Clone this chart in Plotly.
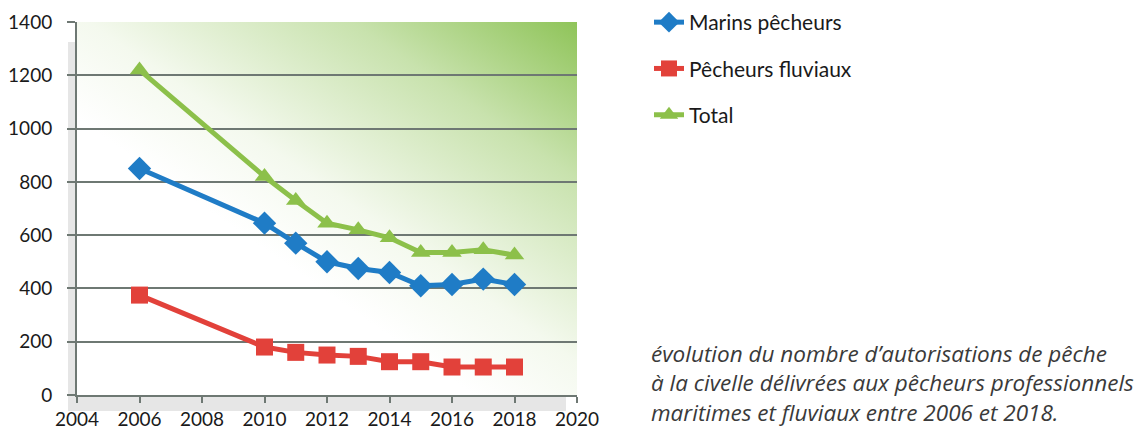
import base64
import plotly.graph_objects as go

# ---- data ----
years = [2006, 2010, 2011, 2012, 2013, 2014, 2015, 2016, 2017, 2018]
marins = [850, 645, 570, 500, 475, 460, 410, 415, 435, 415]
fluviaux = [375, 180, 160, 150, 145, 125, 125, 105, 105, 105]
total = [1220, 820, 730, 645, 620, 590, 535, 535, 545, 525]
series_names = ["Marins pêcheurs", "Pêcheurs fluviaux", "Total"]
x_ticks = [2004, 2006, 2008, 2010, 2012, 2014, 2016, 2018, 2020]
y_ticks = [0, 200, 400, 600, 800, 1000, 1200, 1400]
caption_lines = [
    "évolution du nombre d’autorisations de pêche",
    "à la civelle délivrées aux pêcheurs professionnels",
    "maritimes et fluviaux entre 2006 et 2018.",
]

W, H = 1146, 432
L, R, T, B = 77, 577, 22, 395  # plot area in px


def px(xp):
    return (xp - L) / (R - L)


def py(yp):
    return (B - yp) / (B - T)


BLUE = "#1f7cc6"
RED = "#e2413a"
GREEN = "#8cc04a"
GRID = "#6e7873"
TXT = "#1a1a1a"

fig = go.Figure()
fig.add_trace(go.Scatter(x=years, y=marins, name=series_names[0], mode="lines+markers",
                         line=dict(color=BLUE, width=5),
                         marker=dict(symbol="diamond", size=18, color=BLUE),
                         legendgroup="a"))
fig.add_trace(go.Scatter(x=years, y=fluviaux, name=series_names[1], mode="lines+markers",
                         line=dict(color=RED, width=5),
                         marker=dict(symbol="square", size=17, color=RED),
                         legendgroup="b"))
fig.add_trace(go.Scatter(x=years, y=total, name=series_names[2], mode="lines+markers",
                         line=dict(color=GREEN, width=5),
                         marker=dict(symbol="triangle-up", size=17, color=GREEN),
                         legendgroup="c"))

svg = '''<svg xmlns="http://www.w3.org/2000/svg" width="500" height="373" preserveAspectRatio="none">
<defs><linearGradient id="g" x1="1" y1="0" x2="0.3" y2="0.75">
<stop offset="0" stop-color="#8fc459"/>
<stop offset="0.3" stop-color="#c8e2ad"/>
<stop offset="0.65" stop-color="#f4f9ee"/>
<stop offset="0.85" stop-color="#ffffff"/>
</linearGradient></defs>
<rect x="0" y="0" width="500" height="373" fill="url(#g)"/></svg>'''
src = "data:image/svg+xml;base64," + base64.b64encode(svg.encode()).decode()

fig.add_layout_image(dict(source=src, xref="paper", yref="paper", x=0, y=1,
                          sizex=1, sizey=1, sizing="stretch", layer="below"))

# soft shadow left and bottom of plot area
fig.add_shape(type="rect", xref="paper", yref="paper", x0=px(68), x1=px(77), y0=py(411), y1=py(42),
              fillcolor="#e6e6e6", line=dict(width=0), layer="below")
fig.add_shape(type="rect", xref="paper", yref="paper", x0=px(68), x1=px(566), y0=py(411), y1=py(396),
              fillcolor="#e6e6e6", line=dict(width=0), layer="below")

fig.add_annotation(text="<i>" + "<br>".join(caption_lines) + "</i>", xref="paper", yref="paper",
                   x=px(649), y=py(383), xanchor="left", yanchor="middle", align="left",
                   showarrow=False,
                   font=dict(family="Open Sans", size=22.5, color="#3a3a3a"))

fig.update_layout(
    width=W, height=H,
    margin=dict(l=L, r=W - R, t=T, b=H - B, autoexpand=False),
    paper_bgcolor="white",
    plot_bgcolor="rgba(0,0,0,0)",
    template="none",
    font=dict(family="Lato", size=19, color=TXT),
    showlegend=True,
    legend=dict(x=px(649), y=py(2), xanchor="left", yanchor="top",
                font=dict(family="Lato", size=21, color=TXT),
                tracegroupgap=16, bgcolor="rgba(0,0,0,0)"),
    xaxis=dict(range=[2004, 2020], tickvals=x_ticks, showgrid=False, zeroline=False,
               showline=True, linecolor=GRID, linewidth=2, ticks="outside", ticklen=6,
               tickcolor=GRID, tickwidth=2, automargin=False, ticklabelstandoff=0,
               tickfont=dict(family="Lato", size=19, color=TXT)),
    yaxis=dict(range=[0, 1400], tickvals=y_ticks, showgrid=True, gridcolor=GRID, gridwidth=2,
               zeroline=False, showline=True, linecolor=GRID, linewidth=2, ticks="outside",
               ticklen=8, tickcolor=GRID, tickwidth=2, automargin=False, ticklabelstandoff=11,
               tickfont=dict(family="Lato", size=19, color=TXT)),
)

fig.write_html("out.html", config={"displayModeBar": False},
               post_script="document.body.style.margin='0';")
